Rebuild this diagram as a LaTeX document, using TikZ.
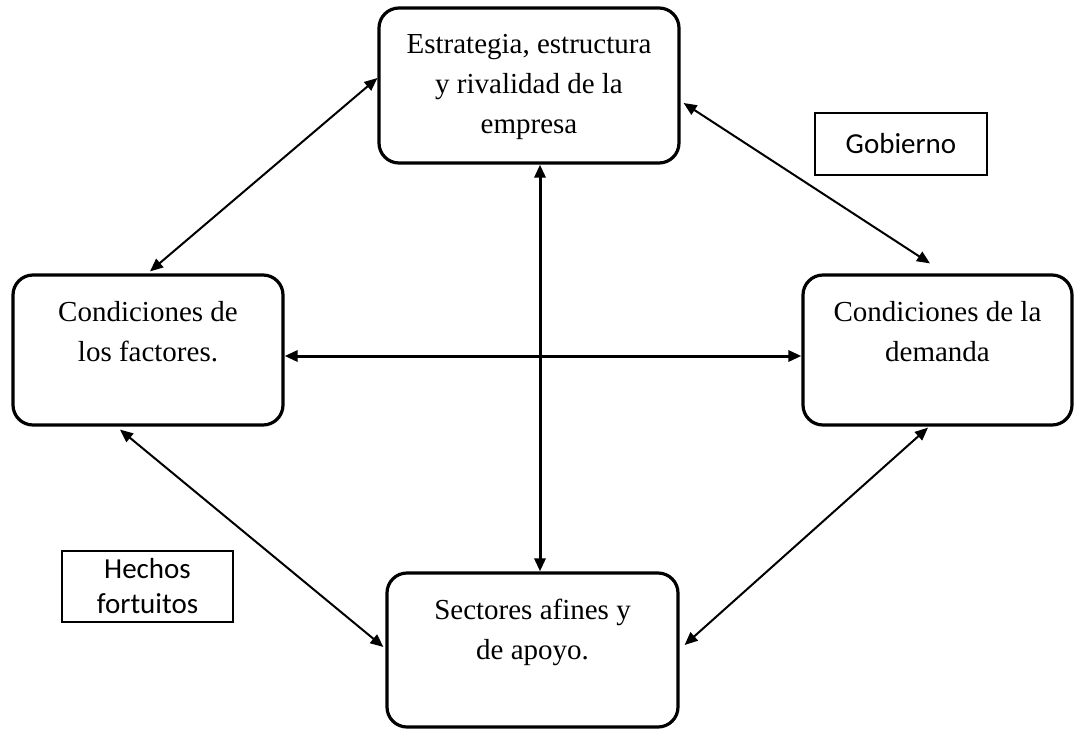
\documentclass[tikz,border=0pt]{standalone}
\usepackage{fontspec}
\setmainfont{Liberation Serif}
\newfontfamily\notefont{Carlito}
\usetikzlibrary{arrows.meta}
% text block of a rounded stage box: fixed height, lines start near the top
\newcommand\stagetext[3]{\parbox[c][#1][t]{#2}{\centering\fontsize{29}{40}\selectfont\vspace*{26pt}#3}}
\begin{document}
\begin{tikzpicture}[x=1pt,y=-1pt,
  stage/.style={draw, line width=3.2pt, rounded corners=20pt, inner sep=0pt},
  note/.style={draw, line width=1.4pt, inner sep=0pt, font=\notefont\fontsize{29}{35}\selectfont, align=center},
  link/.style={line width=2pt, {Triangle[length=13pt,width=11pt]}-{Triangle[length=13pt,width=11pt]}},
  axis/.style={link, line width=3pt}]
\useasboundingbox (0,0) rectangle (1085,729);

% the four determinants
\node[stage] (top) at (529,85.5) {\stagetext{155pt}{300pt}{Estrategia, estructura\\y rivalidad de la\\empresa}};
\node[stage] (left) at (148,350) {\stagetext{150pt}{270pt}{Condiciones de\\los factores.}};
\node[stage] (right) at (937.5,350) {\stagetext{150pt}{269pt}{Condiciones de la\\demanda}};
\node[stage] (bottom) at (532.5,650) {\stagetext{154pt}{291pt}{Sectores afines y\\de apoyo.}};

% outside influences
\node[note, minimum width=172pt, minimum height=62pt] (gov) at (901,144) {Gobierno};
\node[note, minimum width=171pt, minimum height=71pt] (luck) at (147.5,586.5) {Hechos\\fortuitos};

% relations between the determinants
\draw[link] ([yshift=7.5pt]top.west) -- ([xshift=2pt,yshift=2pt]left.north);
\draw[link] ([xshift=3pt,yshift=-17.5pt]top.east) -- ([xshift=-7.5pt,yshift=10pt]right.north);
\draw[link] ([xshift=-28pt,yshift=-3pt]left.south) -- ([xshift=-2pt,yshift=3pt]bottom.west);
\draw[link] ([xshift=-9.5pt,yshift=-1pt]right.south) -- ([xshift=5pt,yshift=5pt]bottom.east);
\draw[axis] ([xshift=11pt]top.south) -- ([xshift=7.5pt]bottom.north);
\draw[axis] ([yshift=-6pt]left.east) -- ([yshift=-6pt]right.west);
\end{tikzpicture}
\end{document}
